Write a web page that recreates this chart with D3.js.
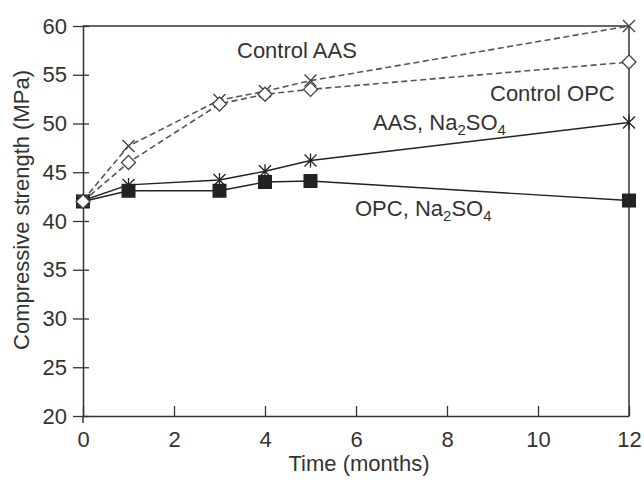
<!DOCTYPE html>
<html>
<head>
<meta charset="utf-8">
<script src="https://cdn.jsdelivr.net/npm/d3@7"></script>
<style>
  body { margin: 0; background: #fff; }
  text { font-family: "Liberation Sans", Arial, sans-serif; fill: #333; }
</style>
</head>
<body>
<div class="canvas"></div>
<script>
// data
const months = [0, 1, 3, 4, 5, 12]
const controlAAS = [42.1, 47.7, 52.4, 53.3, 54.4, 60.0]
const controlOPC = [42.0, 46.0, 52.0, 53.0, 53.5, 56.3]
const aasNa2SO4 = [42.1, 43.7, 44.2, 45.1, 46.2, 50.1]
const opcNa2SO4 = [42.0, 43.1, 43.1, 44.0, 44.1, 42.1]
const xTicks = [0, 2, 4, 6, 8, 10, 12]
const yTicks = [20, 25, 30, 35, 40, 45, 50, 55, 60]

const width = 644, height = 480
const plotLeft = 83, plotRight = 629, plotTop = 26, plotBottom = 416
const fontSize = '22px'

const svg = d3.select(".canvas").append('svg')
    .attr('width', width)
    .attr('height', height)

const x = d3.scaleLinear().domain([0, 12]).range([plotLeft, plotRight])
const y = d3.scaleLinear().domain([20, 60]).range([plotBottom, plotTop])

// frame top and right
svg.append('line')
    .attr('x1', plotLeft).attr('x2', plotRight)
    .attr('y1', plotTop).attr('y2', plotTop)
    .attr('stroke', '#333').attr('stroke-width', 1.5)
svg.append('line')
    .attr('x1', plotRight).attr('x2', plotRight)
    .attr('y1', plotTop).attr('y2', plotBottom)
    .attr('stroke', '#333').attr('stroke-width', 1.5)

// x axis, ticks pointing up into the plot
const xAxis = svg.append('g')
    .attr('transform', `translate(0,${plotBottom})`)
    .call(d3.axisBottom(x).tickValues(xTicks).tickSizeInner(-10).tickSizeOuter(0))
xAxis.select('.domain').attr('stroke', '#333').attr('stroke-width', 1.5)
xAxis.selectAll('.tick line').attr('stroke', '#333').attr('stroke-width', 1.3)
xAxis.selectAll('.tick text')
    .attr('y', 31)
    .attr('dy', 0)
    .style('font-size', fontSize)
    .style('font-family', '"Liberation Sans", Arial, sans-serif')
    .attr('fill', '#333')

// y axis, ticks crossing the line
const yAxis = svg.append('g')
    .attr('transform', `translate(${plotLeft},0)`)
    .call(d3.axisLeft(y).tickValues(yTicks).tickSizeInner(10).tickSizeOuter(0).tickPadding(6))
yAxis.select('.domain').attr('stroke', '#333').attr('stroke-width', 1.5)
yAxis.selectAll('.tick line').attr('x1', -10).attr('x2', 6).attr('stroke', '#333').attr('stroke-width', 1.3)
yAxis.selectAll('.tick text')
    .style('font-size', fontSize)
    .style('font-family', '"Liberation Sans", Arial, sans-serif')
    .attr('fill', '#333')
// small stub of the y axis below the x axis
svg.append('line')
    .attr('x1', plotLeft).attr('x2', plotLeft)
    .attr('y1', plotBottom).attr('y2', plotBottom + 7)
    .attr('stroke', '#333').attr('stroke-width', 1.5)

// axis titles
svg.append('text')
    .attr('x', 359)
    .attr('y', 471)
    .attr('text-anchor', 'middle')
    .style('font-size', fontSize)
    .text('Time (months)')
svg.append('text')
    .attr('transform', 'translate(29,210) rotate(-90)')
    .attr('text-anchor', 'middle')
    .style('font-size', fontSize)
    .text('Compressive strength (MPa)')

const line = d3.line()
    .x((d, i) => x(months[i]))
    .y(d => y(d))

function drawLine(values, dashed) {
    svg.append('path')
        .datum(values)
        .attr('d', line)
        .attr('fill', 'none')
        .attr('stroke', dashed ? '#555' : '#222')
        .attr('stroke-width', dashed ? 1.6 : 1.4)
        .attr('stroke-dasharray', dashed ? '6,3.5' : null)
}

drawLine(opcNa2SO4, false)
drawLine(aasNa2SO4, false)
drawLine(controlOPC, true)
drawLine(controlAAS, true)

// filled squares
svg.append('g').selectAll('rect')
    .data(opcNa2SO4)
    .join('rect')
    .attr('x', (d, i) => x(months[i]) - 7)
    .attr('y', d => y(d) - 7)
    .attr('width', 14)
    .attr('height', 14)
    .attr('fill', '#222')

// asterisks
svg.append('g').selectAll('path')
    .data(aasNa2SO4)
    .join('path')
    .attr('d', (d, i) => {
        const cx = x(months[i]), cy = y(d), r = 6
        return `M${cx - r},${cy - r}L${cx + r},${cy + r}M${cx - r},${cy + r}L${cx + r},${cy - r}M${cx},${cy - r - 1}L${cx},${cy + r + 1}`
    })
    .attr('stroke', '#222')
    .attr('stroke-width', 1.3)
    .attr('fill', 'none')

// crosses
svg.append('g').selectAll('path')
    .data(controlAAS)
    .join('path')
    .attr('d', (d, i) => {
        const cx = x(months[i]), cy = y(d), r = 6
        return `M${cx - r},${cy - r}L${cx + r},${cy + r}M${cx - r},${cy + r}L${cx + r},${cy - r}`
    })
    .attr('stroke', '#444')
    .attr('stroke-width', 1.4)
    .attr('fill', 'none')

// open diamonds
svg.append('g').selectAll('path')
    .data(controlOPC)
    .join('path')
    .attr('d', (d, i) => {
        const cx = x(months[i]), cy = y(d), r = 7
        return `M${cx},${cy - r}L${cx + r},${cy}L${cx},${cy + r}L${cx - r},${cy}Z`
    })
    .attr('stroke', '#444')
    .attr('stroke-width', 1.3)
    .attr('fill', '#fff')

// series labels
svg.append('text')
    .attr('x', 237).attr('y', 58)
    .style('font-size', fontSize)
    .text('Control AAS')
svg.append('text')
    .attr('x', 490).attr('y', 101)
    .style('font-size', fontSize)
    .text('Control OPC')

function labelNa(xPos, yPos, prefix) {
    const t = svg.append('text')
        .attr('x', xPos).attr('y', yPos)
        .style('font-size', fontSize)
    t.append('tspan').text(prefix + ', Na')
    t.append('tspan').attr('dy', 5).style('font-size', '15px').text('2')
    t.append('tspan').attr('dy', -5).text('SO')
    t.append('tspan').attr('dy', 5).style('font-size', '15px').text('4')
}
labelNa(373, 130, 'AAS')
labelNa(355, 216, 'OPC')
</script>
</body>
</html>
